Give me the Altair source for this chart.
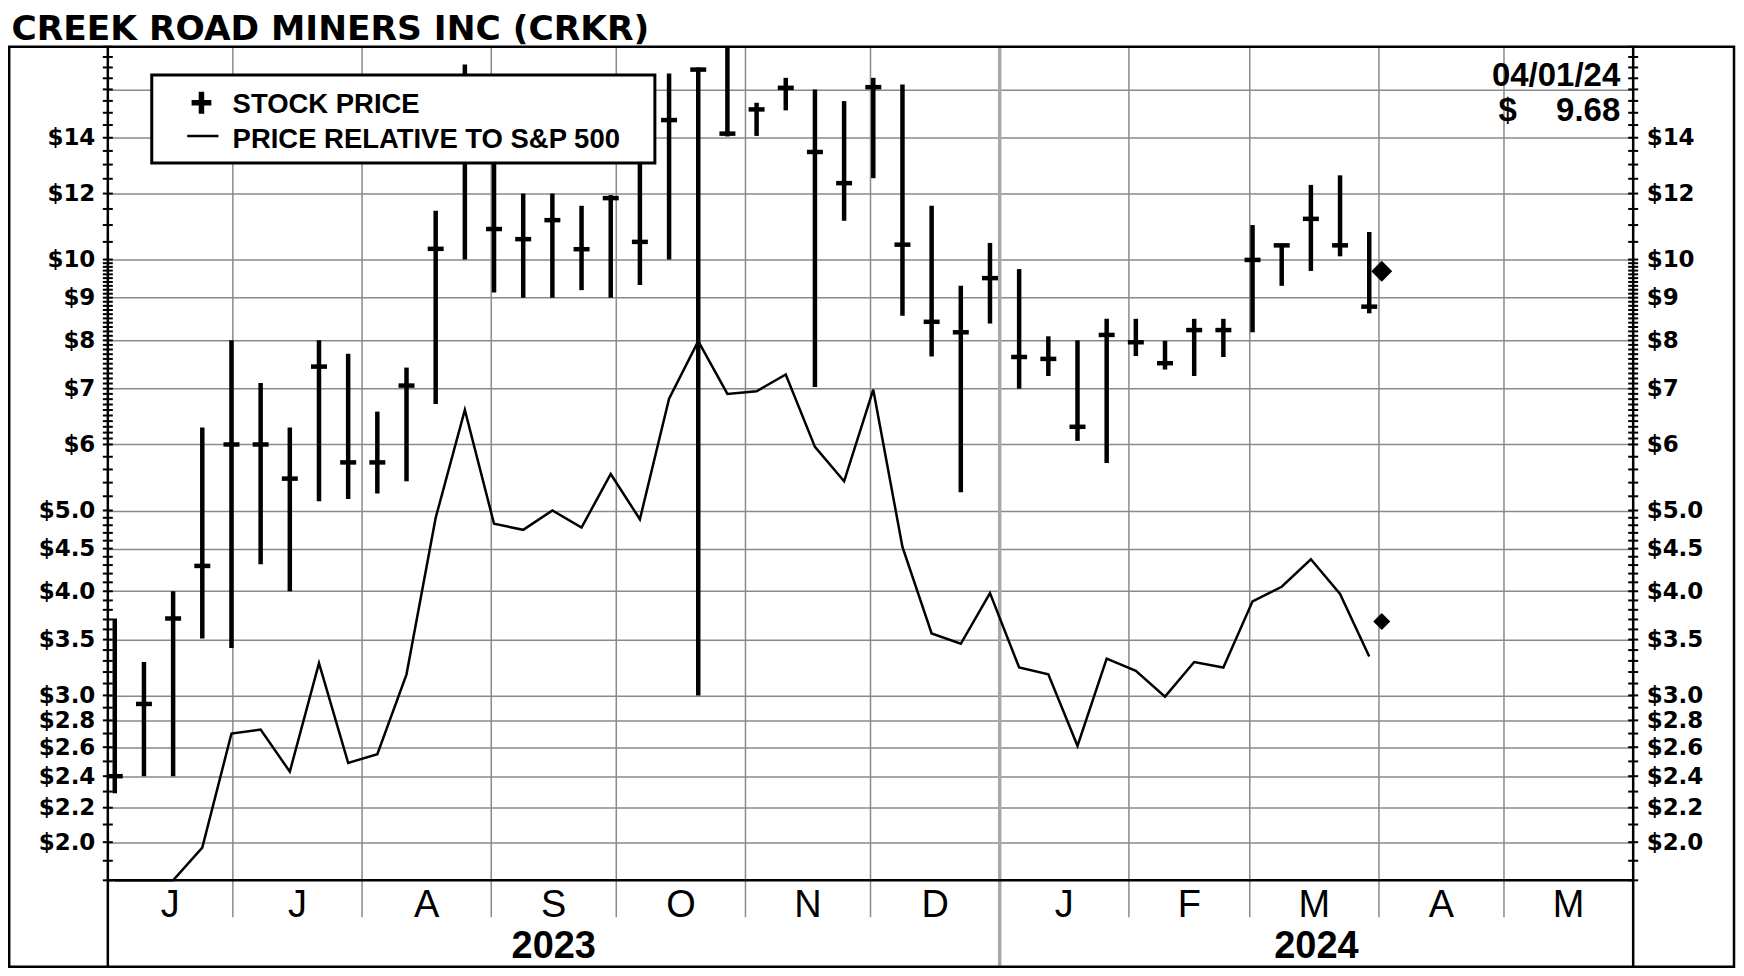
import altair as alt
import pandas as pd

# ---------------- data ----------------
TITLE = "CREEK ROAD MINERS INC (CRKR)"

WEEK_ENDING = [
    "2023-06-02", "2023-06-09", "2023-06-16", "2023-06-23", "2023-06-30",
    "2023-07-07", "2023-07-14", "2023-07-21", "2023-07-28", "2023-08-04",
    "2023-08-11", "2023-08-18", "2023-08-25", "2023-09-01", "2023-09-08",
    "2023-09-15", "2023-09-22", "2023-09-29", "2023-10-06", "2023-10-13",
    "2023-10-20", "2023-10-27", "2023-11-03", "2023-11-10", "2023-11-17",
    "2023-11-24", "2023-12-01", "2023-12-08", "2023-12-15", "2023-12-22",
    "2023-12-29", "2024-01-05", "2024-01-12", "2024-01-19", "2024-01-26",
    "2024-02-02", "2024-02-09", "2024-02-16", "2024-02-23", "2024-03-01",
    "2024-03-08", "2024-03-15", "2024-03-22", "2024-03-29",
]
HIGH = [
    3.71, 3.29, 4.00, 6.29, 8.00, 7.11, 6.29, 8.00, 7.71, 6.57,
    7.42, 11.44, 17.14, 14.5, 12.0, 12.0, 11.6, 11.95, 14.2, 16.72,
    17.0, 18.5, 15.42, 16.52, 16.0, 15.49, 16.52, 16.22, 11.6, 9.30,
    10.47, 9.74, 8.09, 8.00, 8.49, 8.49, 7.99, 8.49, 8.49, 11.0,
    10.42, 12.29, 12.62, 10.79,
]
LOW = [
    2.29, 2.40, 2.40, 3.51, 3.42, 4.31, 4.00, 5.13, 5.16, 5.24,
    5.42, 6.71, 10.0, 9.13, 9.00, 9.00, 9.19, 9.00, 9.32, 10.0,
    3.00, 14.05, 14.07, 15.1, 7.03, 11.13, 12.52, 8.56, 7.65, 5.26,
    8.38, 7.00, 7.25, 6.06, 5.70, 7.66, 7.38, 7.25, 7.64, 8.18,
    9.30, 9.69, 10.09, 8.62,
]
CLOSE = [
    2.40, 2.93, 3.71, 4.29, 6.00, 6.00, 5.46, 7.44, 5.71, 5.71,
    7.06, 10.3, 14.8, 10.88, 10.58, 11.15, 10.29, 11.85, 10.5, 14.7,
    16.9, 14.16, 15.14, 16.07, 13.46, 12.35, 16.1, 10.42, 8.42, 8.18,
    9.50, 7.64, 7.60, 6.30, 8.12, 7.96, 7.51, 8.23, 8.23, 9.99,
    10.4, 11.19, 10.4, 8.78,
]
RELATIVE = [
    1.70, 1.72, 1.78, 1.97, 2.70, 2.73, 2.43, 3.28, 2.49, 2.55,
    3.18, 4.90, 6.60, 4.82, 4.74, 5.00, 4.77, 5.53, 4.88, 6.81,
    7.98, 6.90, 6.95, 7.28, 5.96, 5.42, 6.98, 4.52, 3.56, 3.46,
    3.98, 3.24, 3.18, 2.61, 3.32, 3.21, 2.99, 3.29, 3.24, 3.89,
    4.05, 4.37, 3.97, 3.34,
]
LAST_DATE = "2024-04-01"
LAST_DATE_LABEL = "04/01/24"
LAST_PRICE = 9.68
LAST_RELATIVE = 3.68

LEGEND_LABELS = ["STOCK PRICE", "PRICE RELATIVE TO S&P 500"]

Y_GRID_VALUES = [2.0, 2.2, 2.4, 2.6, 2.8, 3.0, 3.5, 4.0, 4.5, 5.0,
                 6, 7, 8, 9, 10, 12, 14, 16]
Y_TICK_LABELS = ["$2.0", "$2.2", "$2.4", "$2.6", "$2.8", "$3.0", "$3.5",
                 "$4.0", "$4.5", "$5.0", "$6", "$7", "$8", "$9", "$10",
                 "$12", "$14", ""]
Y_DOMAIN = [1.8, 18]

# minor tick marks on the price axes
Y_MINOR_TICKS = (
    [round(1.8 + 0.1 * i, 2) for i in range(33)]
    + [5.2, 5.4, 5.6, 5.8, 6.0]
    + [round(6.1 + 0.1 * i, 2) for i in range(40)]
    + [round(10.5 + 0.5 * i, 2) for i in range(16)]
)

MONTH_STARTS = ["2023-06-01", "2023-07-01", "2023-08-01", "2023-09-01",
                "2023-10-01", "2023-11-01", "2023-12-01", "2024-01-01",
                "2024-02-01", "2024-03-01", "2024-04-01", "2024-05-01"]
MONTH_LABELS = ["J", "J", "A", "S", "O", "N", "D", "J", "F", "M", "A", "M"]
X_DOMAIN = ["2023-06-01", "2024-06-01"]
YEARS = ["2023", "2024"]
YEAR_SPANS = [("2023-06-01", "2024-01-01"), ("2024-01-01", "2024-06-01")]
YEAR_BREAK = "2024-01-01"

# ---------------- layout ----------------
W, H = 1528, 835
TICK_LEN = 37
FRAME_LEFT, FRAME_RIGHT, FRAME_BOTTOM = -98.8, 1629, 921.5
GRID = "#8a8a8a"


def iso(ts):
    return pd.Timestamp(ts).strftime("%Y-%m-%dT%H:%M:%SZ")


def midpoint(a, b):
    a, b = pd.Timestamp(a), pd.Timestamp(b)
    return iso(a + (b - a) / 2)


df = pd.DataFrame({
    "week": [f"{d}T16:00:00Z" for d in WEEK_ENDING],
    "high": HIGH, "low": LOW, "close": CLOSE, "rel": RELATIVE,
})
ticks_df = pd.DataFrame({"v": Y_MINOR_TICKS})
one = pd.DataFrame({"a": [0]})
last_df = pd.DataFrame({"d": [f"{LAST_DATE}T16:00:00Z"], "p": [LAST_PRICE], "r": [LAST_RELATIVE]})
year_df = pd.DataFrame({"year": YEARS, "mid": [midpoint(a, b) for a, b in YEAR_SPANS]})
break_df = pd.DataFrame({"d": [iso(YEAR_BREAK)]})
month_ends = MONTH_STARTS[1:] + [X_DOMAIN[1]]
month_df = pd.DataFrame({
    "start": [iso(m) for m in MONTH_STARTS],
    "mid": [midpoint(a, b) for a, b in zip(MONTH_STARTS, month_ends)],
    "label": MONTH_LABELS,
})

x_scale = alt.Scale(type="utc", domain=[iso(X_DOMAIN[0]), iso(X_DOMAIN[1])])


def X(field):
    return alt.X(field, scale=x_scale, axis=None)


def y_scale():
    return alt.Scale(type="log", domain=Y_DOMAIN, clamp=True, nice=False)


def label_expr(values, labels):
    expr = "''"
    for v, l in reversed(list(zip(values, labels))):
        expr = f"abs(datum.value - {v}) < 1e-6 ? '{l}' : ({expr})"
    return expr


Y_LABEL_EXPR = label_expr(Y_GRID_VALUES, Y_TICK_LABELS)


def y_axis(orient, grid, pad):
    return alt.Axis(
        orient=orient, values=Y_GRID_VALUES, labelExpr=Y_LABEL_EXPR, title=None,
        grid=grid, gridColor=GRID, gridWidth=1.5, ticks=False, domain=False,
        labelFont="DejaVu Sans", labelFontWeight="bold", labelFontSize=23,
        labelColor="black", labelPadding=pad, labelBaseline="middle", labelOverlap=False,
    )


base = alt.Chart(df)

# month gridlines (extend below the axis as dividers) + month letters
month_rules = alt.Chart(month_df).mark_rule(color=GRID, strokeWidth=1.5).encode(
    x=X("start:T"), y=alt.value(0), y2=alt.value(H + TICK_LEN))
month_text = alt.Chart(month_df).mark_text(
    align="center", baseline="alphabetic", font="Liberation Sans", fontSize=38,
    color="black").encode(x=X("mid:T"), y=alt.value(H + TICK_LEN), text="label:N")

# price axes: left carries the horizontal grid, both get cross-shaped ticks
y_left = alt.Chart(ticks_df).mark_tick(orient="horizontal", size=10, thickness=2,
                                       color="black", opacity=1).encode(
    x=alt.value(0), y=alt.Y("v:Q", scale=y_scale(), axis=y_axis("left", True, 13)))
y_right = alt.Chart(ticks_df).mark_tick(orient="horizontal", size=10, thickness=2,
                                        color="black", opacity=1).encode(
    x=alt.value(W), y=alt.Y("v:Q", scale=y_scale(), axis=y_axis("right", False, 13)))

year_break = alt.Chart(break_df).mark_rule(color="#a8a8a8", strokeWidth=3.5).encode(
    x=X("d:T"), y=alt.value(0), y2=alt.value(FRAME_BOTTOM))

bars = base.mark_rule(color="black", strokeWidth=4.5).encode(
    x=X("week:T"), y=alt.Y("low:Q", scale=y_scale(), axis=None), y2="high:Q")
closes = base.mark_tick(orient="horizontal", size=16, thickness=4.5, color="black", opacity=1).encode(
    x=X("week:T"), y=alt.Y("close:Q", scale=y_scale(), axis=None))
rel_line = base.mark_line(color="black", strokeWidth=2.5).encode(
    x=X("week:T"), y=alt.Y("rel:Q", scale=y_scale(), axis=None))
last_price = alt.Chart(last_df).mark_point(shape="diamond", filled=True, color="black", size=440, opacity=1).encode(
    x=X("d:T"), y=alt.Y("p:Q", scale=y_scale(), axis=None))
last_rel = alt.Chart(last_df).mark_point(shape="diamond", filled=True, color="black", size=290, opacity=1).encode(
    x=X("d:T"), y=alt.Y("r:Q", scale=y_scale(), axis=None))

axis_lines = [
    alt.Chart(one).mark_rule(color="black", strokeWidth=2.5).encode(
        x=alt.value(xv), y=alt.value(0), y2=alt.value(FRAME_BOTTOM))
    for xv in (0, W)
] + [
    alt.Chart(one).mark_rule(color="black", strokeWidth=2.5).encode(
        x=alt.value(0), x2=alt.value(W), y=alt.value(H))
]

# legend box
legend_box = alt.Chart(one).mark_rect(fill="white", stroke="black", strokeWidth=3).encode(
    x=alt.value(44), x2=alt.value(548), y=alt.value(28.4), y2=alt.value(116.4))
legend_plus = alt.Chart(one).mark_point(
    shape="M-0.9,0L0.9,0M0,-1L0,1", size=484, filled=False, stroke="black",
    strokeWidth=5.5, opacity=1).encode(x=alt.value(93.8), y=alt.value(56))
legend_line = alt.Chart(one).mark_rule(color="black", strokeWidth=2.5).encode(
    x=alt.value(79.5), x2=alt.value(110.8), y=alt.value(89.4))
legend_texts = [
    alt.Chart(one).mark_text(text=txt, align="left", baseline="alphabetic",
                             font="Liberation Sans", fontWeight="bold", fontSize=27.5,
                             color="black").encode(x=alt.value(125), y=alt.value(yv))
    for txt, yv in zip(LEGEND_LABELS, (66, 101.3))
]

title = alt.Chart(one).mark_text(text=TITLE, align="left", baseline="alphabetic",
                                 font="DejaVu Sans", fontWeight="bold", fontSize=34.5,
                                 color="black").encode(x=alt.value(-96.5), y=alt.value(-6.5))


def corner_text(txt, align, xv, yv):
    return alt.Chart(one).mark_text(text=txt, align=align, baseline="alphabetic",
                                    font="Liberation Sans", fontWeight="bold", fontSize=33,
                                    color="black").encode(x=alt.value(xv), y=alt.value(yv))


date_text = corner_text(LAST_DATE_LABEL, "right", 1515, 39.4)
dollar_text = corner_text("$", "left", 1393, 74.4)
price_text = corner_text(f"{LAST_PRICE:.2f}", "right", 1515, 74.4)

year_text = alt.Chart(year_df).mark_text(align="center", baseline="alphabetic",
                                         font="Liberation Sans", fontWeight="bold", fontSize=38,
                                         color="black").encode(
    x=X("mid:T"), y=alt.value(913), text="year:N")

frame = alt.Chart(one).mark_rect(fillOpacity=0, fill="white", stroke="black", strokeWidth=2.5).encode(
    x=alt.value(FRAME_LEFT), x2=alt.value(FRAME_RIGHT), y=alt.value(0), y2=alt.value(FRAME_BOTTOM))

chart = alt.layer(
    y_left, y_right, month_rules, year_break,
    bars, closes, rel_line, last_price, last_rel,
    *axis_lines, month_text, legend_box, legend_plus, legend_line, *legend_texts,
    title, date_text, dollar_text, price_text, year_text, frame,
).resolve_scale(y="independent").properties(
    width=W, height=H,
    padding={"left": 100, "top": 38, "right": 103, "bottom": 92},
    autosize=alt.AutoSizeParams(type="none"),
    background="white",
).configure_view(stroke=None)

chart.save("out.html", embed_options={"renderer": "svg", "actions": False})
